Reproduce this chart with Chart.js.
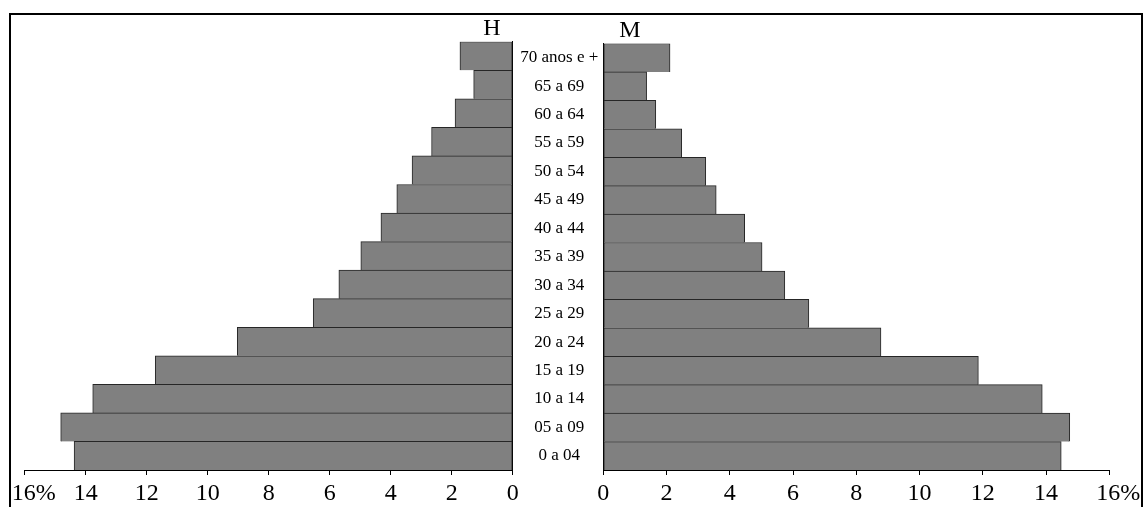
<!DOCTYPE html>
<html>
<head>
<meta charset="utf-8">
<script src="https://cdn.jsdelivr.net/npm/chart.js@4.4.1/dist/chart.umd.min.js"></script>
<style>
  html, body { margin: 0; padding: 0; background: #ffffff; overflow: hidden; }
  #wrap { position: relative; width: 1145px; height: 507px; }
  #frame { position: absolute; left: 9px; top: 13px; width: 1134px; height: 600px;
           box-sizing: border-box; border: 2px solid #000; border-bottom: none; }
  canvas { position: absolute; left: 0; top: 0; }
  .ttl { position: absolute; font-family: 'Liberation Serif', 'Times New Roman', serif;
         font-size: 24px; line-height: 1; color: #000; transform: translate(-50%, -50%); }
</style>
</head>
<body>
<div id="wrap">
  <div id="frame"></div>
  <canvas id="cH" width="1145" height="507"></canvas>
  <canvas id="cM" width="1145" height="507"></canvas>
  <div class="ttl" style="left:492px; top:27px;">H</div>
  <div class="ttl" style="left:630px; top:29px;">M</div>
</div>
<script>
// ---- data (top to bottom) ----
const categories = ['70 anos e +', '65 a 69', '60 a 64', '55 a 59', '50 a 54', '45 a 49', '40 a 44',
  '35 a 39', '30 a 34', '25 a 29', '20 a 24', '15 a 19', '10 a 14', '05 a 09', '0 a 04'];
const homens   = [1.73, 1.28, 1.89, 2.66, 3.30, 3.80, 4.32, 4.98, 5.70, 6.54, 9.03, 11.72, 13.77, 14.82, 14.38];
const mulheres = [2.11, 1.37, 1.66, 2.48, 3.24, 3.57, 4.47, 5.02, 5.74, 6.50, 8.78, 11.86, 13.88, 14.75, 14.48];
const axisMin = 0;
const axisMax = 16;
const axisStep = 2;
const maxLabel = '16%';

const serif = "'Liberation Serif', 'Times New Roman', serif";
const barFill = '#808080';
const barLine = '#262626';

function tickLabel(v) {
  return v === axisMax ? '   ' + maxLabel : String(v);
}

function xScale(reverse) {
  return {
    type: 'linear', reverse: reverse, min: axisMin, max: axisMax,
    ticks: { stepSize: axisStep, color: '#000', padding: 4, maxRotation: 0, autoSkip: false,
             font: { family: serif, size: 24 }, callback: tickLabel },
    grid: { display: true, drawOnChartArea: false, drawTicks: true, tickLength: 5, color: '#000', lineWidth: 1 },
    border: { display: true, color: '#000', width: 1 },
    afterFit: s => { s.height = 37; s.paddingLeft = 0; s.paddingRight = 0; }
  };
}

function dataset(values) {
  return {
    data: values, backgroundColor: barFill, borderColor: barLine,
    borderWidth: { top: 1, bottom: 0, left: 1, right: 1 }, borderSkipped: false,
    categoryPercentage: 1.0, barPercentage: 1.0
  };
}

const common = {
  responsive: false, animation: false, devicePixelRatio: 1, indexAxis: 'y',
};

new Chart(document.getElementById('cH'), {
  type: 'bar',
  data: { labels: categories, datasets: [dataset(homens)] },
  options: Object.assign({}, common, {
    layout: { padding: { left: 24.7, right: 632.3, top: 41.7, bottom: 0 } },
    plugins: { legend: { display: false }, tooltip: { enabled: false }, title: { display: false } },
    scales: {
      x: xScale(true),
      y: {
        type: 'category', position: 'right',
        ticks: { display: false },
        grid: { display: false, drawTicks: false },
        border: { display: true, color: '#000', width: 1 },
        afterFit: s => { s.width = 0; s.paddingTop = 0; s.paddingBottom = 0; }
      }
    }
  })
});

new Chart(document.getElementById('cM'), {
  type: 'bar',
  data: { labels: categories, datasets: [dataset(mulheres)] },
  options: Object.assign({}, common, {
    layout: { padding: { left: 512.7, right: 35.7, top: 43.5, bottom: 0 } },
    plugins: { legend: { display: false }, tooltip: { enabled: false }, title: { display: false } },
    scales: {
      x: xScale(false),
      y: {
        type: 'category', position: 'left',
        ticks: { display: true, color: '#000', padding: 5, crossAlign: 'center',
                 font: { family: serif, size: 17 } },
        grid: { display: false, drawTicks: false },
        border: { display: true, color: '#000', width: 1 },
        afterFit: s => { s.width = 90.6; s.paddingTop = 0; s.paddingBottom = 0; }
      }
    }
  })
});
</script>
</body>
</html>
